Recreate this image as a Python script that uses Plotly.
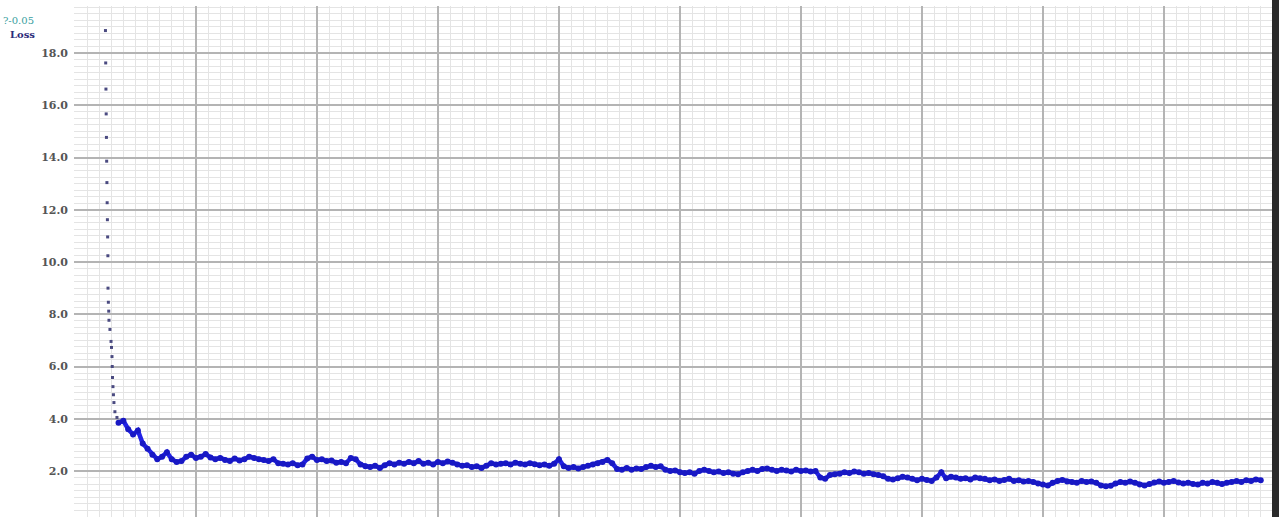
import plotly.graph_objects as go

# Initial steep descent (sparse early logging)
head_steps = [252, 254, 256, 258, 260, 262, 264, 266, 268, 270, 272, 273, 276,
              279, 281, 289, 298, 302, 306, 308, 310, 314, 318, 322, 330, 347]
head_loss = [18.86, 17.62, 16.62, 15.67, 14.77, 13.86, 13.04, 12.27, 11.62, 10.96,
             10.24, 9.00, 8.46, 8.12, 7.77, 7.42, 6.96, 6.73, 6.38, 6.00, 5.58,
             5.23, 4.92, 4.62, 4.27, 4.05]

# Main training phase, logged every 40 steps
band_start, band_every = 360, 40
band_loss = [
    3.85, 3.92, 3.60, 3.40, 3.55, 3.05, 2.85, 2.62, 2.45, 2.55,
    2.72, 2.45, 2.35, 2.38, 2.55, 2.62, 2.50, 2.55, 2.65, 2.52,
    2.45, 2.50, 2.42, 2.38, 2.48, 2.40, 2.45, 2.55, 2.50, 2.45,
    2.42, 2.38, 2.45, 2.30, 2.28, 2.25, 2.30, 2.22, 2.25, 2.48,
    2.55, 2.42, 2.45, 2.38, 2.40, 2.32, 2.35, 2.30, 2.50, 2.45,
    2.25, 2.18, 2.15, 2.20, 2.12, 2.22, 2.30, 2.25, 2.32, 2.28,
    2.35, 2.30, 2.38, 2.28, 2.32, 2.25, 2.35, 2.30, 2.36, 2.32,
    2.25, 2.20, 2.22, 2.15, 2.18, 2.12, 2.20, 2.30, 2.25, 2.28,
    2.30, 2.25, 2.32, 2.28, 2.25, 2.30, 2.26, 2.22, 2.25, 2.20,
    2.28, 2.45, 2.18, 2.12, 2.15, 2.10, 2.15, 2.20, 2.25, 2.30,
    2.35, 2.42, 2.30, 2.08, 2.05, 2.12, 2.05, 2.10, 2.08, 2.15,
    2.20, 2.15, 2.18, 2.05, 2.00, 2.02, 1.95, 1.92, 1.95, 1.90,
    2.00, 2.05, 2.00, 1.95, 1.98, 1.92, 1.95, 1.90, 1.88, 1.95,
    2.00, 2.05, 2.00, 2.08, 2.10, 2.05, 2.00, 2.05, 2.02, 1.98,
    2.05, 2.00, 2.02, 1.98, 2.00, 1.75, 1.70, 1.85, 1.88, 1.90,
    1.95, 1.92, 1.98, 1.95, 1.90, 1.92, 1.88, 1.85, 1.80, 1.70,
    1.68, 1.72, 1.78, 1.75, 1.70, 1.65, 1.70, 1.66, 1.62, 1.75,
    1.95, 1.72, 1.78, 1.75, 1.70, 1.72, 1.68, 1.75, 1.72, 1.70,
    1.65, 1.68, 1.62, 1.66, 1.70, 1.62, 1.65, 1.60, 1.62, 1.58,
    1.52, 1.48, 1.45, 1.55, 1.62, 1.66, 1.60, 1.58, 1.55, 1.62,
    1.58, 1.60, 1.55, 1.45, 1.42, 1.44, 1.52, 1.58, 1.55, 1.60,
    1.55, 1.48, 1.45, 1.50, 1.56, 1.60, 1.55, 1.58, 1.62, 1.56,
    1.52, 1.55, 1.50, 1.48, 1.55, 1.52, 1.58, 1.55, 1.50, 1.55,
    1.58, 1.62, 1.58, 1.65, 1.62, 1.68, 1.65,
]
band_steps = [band_start + band_every * i for i in range(len(band_loss))]

legend_lines = ["?-0.05", "Loss"]

fig = go.Figure()
fig.add_trace(go.Scatter(
    x=head_steps, y=head_loss, mode="markers",
    marker=dict(size=3, color="#4a4a80", symbol="square"),
    showlegend=False, hoverinfo="x+y",
))
fig.add_trace(go.Scatter(
    x=band_steps, y=band_loss, mode="lines+markers",
    line=dict(color="#2222e6", width=4.5),
    marker=dict(size=6, color="#1818c4"),
    showlegend=False, name="Loss",
))

# Legend-like labels in the upper left corner
fig.add_annotation(x=-0.0605, y=0.984, xref="paper", yref="paper",
                   text=legend_lines[0], showarrow=False, xanchor="left",
                   borderpad=0,
                   font=dict(family="DejaVu Serif", size=10, color="#3aa0a0"))
fig.add_annotation(x=-0.0545, y=0.957, xref="paper", yref="paper",
                   text="<b>" + legend_lines[1] + "</b>", showarrow=False,
                   xanchor="left", borderpad=0,
                   font=dict(family="DejaVu Serif", size=10, color="#2b2b7a"))

# Dark strip along the right edge
fig.add_shape(type="rect", xref="paper", yref="paper",
              x0=1.0, x1=1.01, y0=0, y1=1.02,
              fillcolor="#2b2b2b", line=dict(width=0), layer="above")

fig.update_layout(
    width=1279, height=517,
    margin=dict(l=74, r=7, t=6, b=0),
    paper_bgcolor="white", plot_bgcolor="white",
    showlegend=False,
    xaxis=dict(
        range=[-8, 9893], showticklabels=False, zeroline=False,
        tick0=0, dtick=1000, showgrid=True, gridcolor="#b4b4b4", gridwidth=1.5,
        minor=dict(dtick=100, showgrid=True, gridcolor="#e4e4e4", gridwidth=1),
        showline=False,
    ),
    yaxis=dict(
        range=[0.24, 19.8], zeroline=False,
        tick0=0, dtick=2, tickformat=".1f", ticks="",
        showgrid=True, gridcolor="#b4b4b4", gridwidth=1.5,
        minor=dict(dtick=0.25, showgrid=True, gridcolor="#e4e4e4", gridwidth=1),
        tickfont=dict(family="DejaVu Serif", size=11, color="#555555",
                      weight="bold"),
        ticklabelstandoff=5,
        showline=False,
    ),
)

fig.write_html("out.html")
